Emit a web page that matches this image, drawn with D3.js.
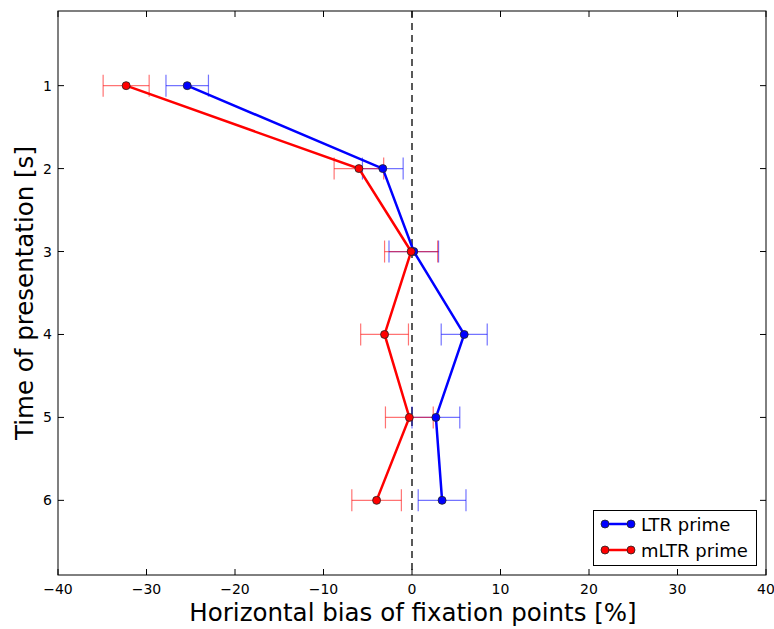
<!DOCTYPE html>
<html><head><meta charset="utf-8">
<script src="https://cdn.jsdelivr.net/npm/d3@7"></script>
<style>body{margin:0;background:#fff;} text{font-family:"DejaVu Sans",sans-serif;}</style>
</head><body>
<svg id="c" width="774" height="629"></svg>
<script>
const times = [1, 2, 3, 4, 5, 6];
const ltrValues = [-25.4, -3.3, 0.2, 5.9, 2.7, 3.4];
const ltrErrors = [2.4, 2.3, 2.8, 2.6, 2.7, 2.7];
const mltrValues = [-32.3, -6.0, -0.1, -3.1, -0.3, -4.0];
const mltrErrors = [2.6, 2.8, 3.0, 2.7, 2.7, 2.8];
const xTicks = [-40, -30, -20, -10, 0, 10, 20, 30, 40];
const yTicks = [1, 2, 3, 4, 5, 6];
const seriesNames = ["LTR prime", "mLTR prime"];

const svg = d3.select("#c");
const L = 58, R = 766, T = 11, B = 575;
const x = d3.scaleLinear().domain([-40, 40]).range([L, R]);
const y = d3.scaleLinear().domain([0.1, 6.9]).range([T, B]);

const g = svg.append("g");
g.append("line").attr("x1", x(0)).attr("x2", x(0)).attr("y1", T).attr("y2", B)
  .attr("stroke", "#000").attr("stroke-width", 1.3).attr("stroke-dasharray", "7,5");

const series = [
  {name: seriesNames[0], vals: ltrValues, errs: ltrErrors, color: "#0000ff"},
  {name: seriesNames[1], vals: mltrValues, errs: mltrErrors, color: "#ff0000"}
];
const line = d3.line().x(d => x(d[0])).y(d => y(d[1]));
series.forEach(s => {
  const pts = s.vals.map((v, i) => [v, times[i], s.errs[i]]);
  const eg = g.append("g").attr("stroke", s.color).attr("stroke-opacity", 0.55).attr("stroke-width", 1.2);
  pts.forEach(p => {
    eg.append("line").attr("x1", x(p[0] - p[2])).attr("x2", x(p[0] + p[2])).attr("y1", y(p[1])).attr("y2", y(p[1]));
    [p[0] - p[2], p[0] + p[2]].forEach(e => {
      eg.append("line").attr("x1", x(e)).attr("x2", x(e)).attr("y1", y(p[1]) - 11).attr("y2", y(p[1]) + 11);
    });
  });
  s.pts = pts;
});
series.forEach(s => {
  g.append("path").datum(s.pts).attr("d", line).attr("fill", "none")
    .attr("stroke", s.color).attr("stroke-width", 2.5);
});
series.forEach(s => {
  g.selectAll(null).data(s.pts).enter().append("circle")
    .attr("cx", d => x(d[0])).attr("cy", d => y(d[1])).attr("r", 4)
    .attr("fill", s.color).attr("stroke", "#222").attr("stroke-width", 0.8);
});

svg.append("rect").attr("x", L).attr("y", T).attr("width", R - L).attr("height", B - T)
  .attr("fill", "none").attr("stroke", "#000").attr("stroke-width", 1);

const tk = svg.append("g").attr("stroke", "#000").attr("stroke-width", 1);
xTicks.forEach(t => {
  tk.append("line").attr("x1", x(t)).attr("x2", x(t)).attr("y1", B).attr("y2", B - 6);
  tk.append("line").attr("x1", x(t)).attr("x2", x(t)).attr("y1", T).attr("y2", T + 6);
  svg.append("text").attr("x", x(t)).attr("y", B + 19).attr("text-anchor", "middle")
    .attr("font-size", 14).text(t < 0 ? "\u2212" + Math.abs(t) : String(t));
});
yTicks.forEach(t => {
  tk.append("line").attr("x1", L).attr("x2", L + 6).attr("y1", y(t)).attr("y2", y(t));
  tk.append("line").attr("x1", R).attr("x2", R - 6).attr("y1", y(t)).attr("y2", y(t));
  svg.append("text").attr("x", L - 6).attr("y", y(t) + 5).attr("text-anchor", "end")
    .attr("font-size", 14).text(t);
});

svg.append("text").attr("x", (L + R) / 2 + 1).attr("y", 621).attr("text-anchor", "middle")
  .attr("font-size", 24.5).text("Horizontal bias of fixation points [%]");
svg.append("text").attr("transform", `translate(33,${(T + B) / 2}) rotate(-90)`)
  .attr("text-anchor", "middle").attr("font-size", 24.5).text("Time of presentation [s]");

const lg = svg.append("g");
lg.append("rect").attr("x", 593.5).attr("y", 510.5).attr("width", 163).attr("height", 55)
  .attr("fill", "#fff").attr("stroke", "#000").attr("stroke-width", 1);
series.forEach((s, i) => {
  const yy = 524 + i * 26;
  lg.append("line").attr("x1", 605).attr("x2", 631).attr("y1", yy).attr("y2", yy)
    .attr("stroke", s.color).attr("stroke-width", 2.5);
  [605, 631].forEach(cx => lg.append("circle").attr("cx", cx).attr("cy", yy).attr("r", 4)
    .attr("fill", s.color).attr("stroke", "#222").attr("stroke-width", 0.8));
  lg.append("text").attr("x", 641).attr("y", yy + 6.5).attr("font-size", 18).text(s.name);
});
</script>
</body></html>
